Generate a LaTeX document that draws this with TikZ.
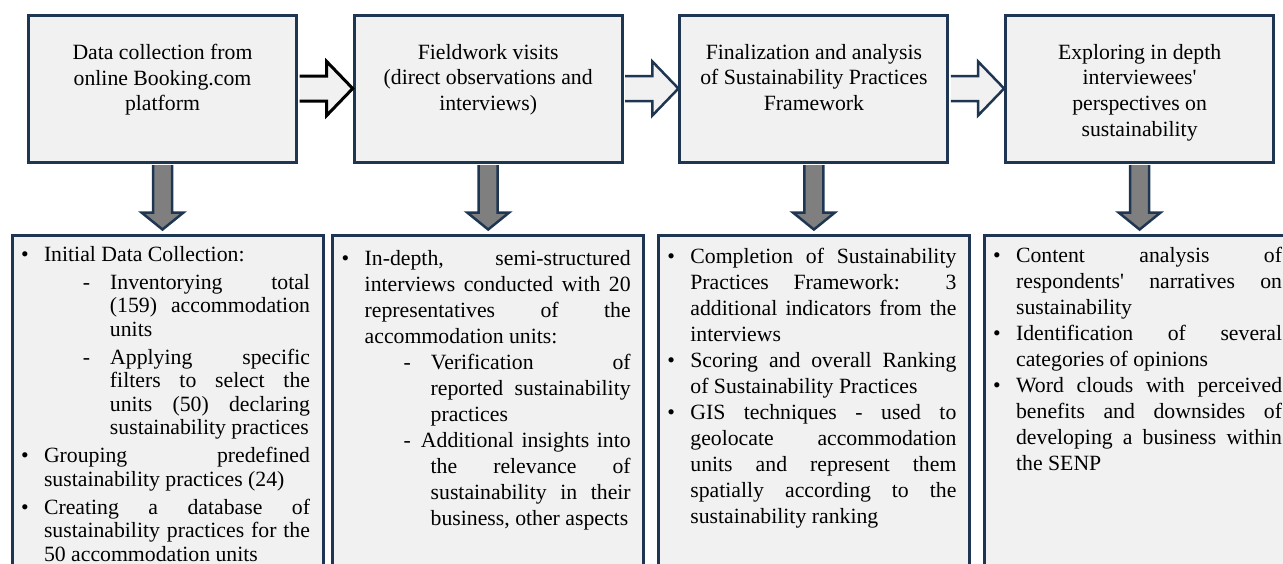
\documentclass[tikz,border=0pt]{standalone}
\usepackage{fontspec}
\setmainfont{Liberation Serif}
\usepackage{enumitem}
\usetikzlibrary{positioning,calc}
\definecolor{navy}{HTML}{1F3652}
\definecolor{panel}{HTML}{F1F1F2}
\definecolor{shaft}{HTML}{7F7F7F}
\tikzstyle{stage} = [draw=navy, line width=3pt, fill=panel, rectangle,
    minimum width=268pt, minimum height=147pt, inner sep=0pt]
\tikzstyle{detail} = [draw=navy, line width=3pt, fill=panel, rectangle,
    minimum width=311pt, minimum height=345pt, inner sep=0pt]
\tikzstyle{blockarrow} = [draw=navy, line width=2.5pt, fill=panel, line join=miter]
\tikzstyle{droparrow} = [draw=navy, line width=2.5pt, fill=shaft, line join=miter]
\setlist[itemize,1]{label=\textbullet, leftmargin=19pt, labelwidth=8pt, labelsep=15pt,
    align=left, topsep=0pt, partopsep=0pt, parsep=0pt, itemsep=0pt}
\setlist[itemize,2]{label=-, leftmargin=66pt, labelwidth=7pt, labelsep=20pt,
    align=left, topsep=0pt, partopsep=0pt, parsep=0pt, itemsep=0pt}
% title text of a stage box, centred from the top
\newcommand{\stagetext}[1]{\begin{minipage}[t][147pt][t]{262pt}\centering
    \fontsize{21.75pt}{25.7pt}\selectfont\vspace*{29pt}#1\end{minipage}}
% justified bullet text of a detail box: line spacing, top gap, items
\newcommand{\detailtext}[3]{\begin{minipage}[t][345pt][t]{285pt}
    \fontsize{21.75pt}{#1}\selectfont\tolerance=10000 \hbadness=10000
    \hyphenpenalty=10000 \vspace*{#2}#3\end{minipage}}

\begin{document}
\begin{tikzpicture}[x=1pt, y=1pt]
  \useasboundingbox (0,0) rectangle (1283,-563);
  \clip (0,0) rectangle (1283,-563);
  % the four stages
  \node [stage] (s1) at (162.5,-88.5) {\stagetext{Data collection from\\online Booking.com\\platform}};
  \node [stage, right of=s1, node distance=325.7pt] (s2) {\stagetext{Fieldwork visits\\(direct observations and\\interviews)}};
  \node [stage, right of=s2, node distance=325.7pt] (s3) {\stagetext{Finalization and analysis\\of Sustainability Practices\\Framework}};
  \node [stage, right of=s3, node distance=325.7pt] (s4) {\stagetext{Exploring in depth\\interviewees\textquotesingle\\perspectives on\\sustainability}};
  % what was done in each stage
  \node [detail, below of=s1, node distance=319pt, xshift=5pt] (d1) {\detailtext{23.5pt}{11pt}{%
    \begin{itemize}[itemsep=4.5pt]
    \item Initial Data Collection:
      \begin{itemize}[itemsep=4.5pt, topsep=4.5pt]
      \item Inventorying total\linebreak (159) accommodation\linebreak units
      \item Applying specific\linebreak filters to select the\linebreak units (50) declaring\linebreak sustainability practices
      \end{itemize}
    \item Grouping predefined\linebreak sustainability practices (24)
    \item Creating a database of\linebreak sustainability practices for the\linebreak 50 accommodation units
    \end{itemize}}};
  \node [detail, below of=s2, node distance=319pt] (d2) {\detailtext{26pt}{15pt}{%
    \begin{itemize}
    \item In-depth, semi-structured\linebreak interviews conducted with 20\linebreak representatives of the\linebreak accommodation units:
      \begin{itemize}
      \item Verification of\linebreak reported sustainability\linebreak practices
      \item \hspace*{-10pt}Additional insights into\linebreak the relevance of\linebreak sustainability in their\linebreak business, other aspects
      \end{itemize}
    \end{itemize}}};
  \node [detail, below of=s3, node distance=319pt] (d3) {\detailtext{26pt}{13pt}{%
    \begin{itemize}
    \item Completion of Sustainability\linebreak Practices Framework: 3\linebreak additional indicators from the\linebreak interviews
    \item Scoring and overall Ranking\linebreak of Sustainability Practices
    \item GIS techniques - used to\linebreak geolocate accommodation\linebreak units and represent them\linebreak spatially according to the\linebreak sustainability ranking
    \end{itemize}}};
  \node [detail, below of=s4, node distance=319pt] (d4) {\detailtext{26pt}{12pt}{%
    \begin{itemize}
    \item Content analysis of\linebreak respondents\textquotesingle{} narratives on\linebreak sustainability
    \item Identification of several\linebreak categories of opinions
    \item Word clouds with perceived\linebreak benefits and downsides of\linebreak developing a business within\linebreak the SENP
    \end{itemize}}};
  % block arrows from stage to stage
  \filldraw [blockarrow, draw=black, line width=3pt] ($(s1.east)+(1.5,12.5)$) -- ($(s2.west)+(-26,12.5)$)
    -- ($(s2.west)+(-26,27)$) -- (s2.west) -- ($(s2.west)+(-26,-27)$)
    -- ($(s2.west)+(-26,-12.5)$) -- ($(s1.east)+(1.5,-12.5)$);
  \filldraw [blockarrow] ($(s2.east)+(1.5,12.5)$) -- ($(s3.west)+(-26,12.5)$)
    -- ($(s3.west)+(-26,27)$) -- (s3.west) -- ($(s3.west)+(-26,-27)$)
    -- ($(s3.west)+(-26,-12.5)$) -- ($(s2.east)+(1.5,-12.5)$);
  \filldraw [blockarrow] ($(s3.east)+(1.5,12.5)$) -- ($(s4.west)+(-26,12.5)$)
    -- ($(s4.west)+(-26,27)$) -- (s4.west) -- ($(s4.west)+(-26,-27)$)
    -- ($(s4.west)+(-26,-12.5)$) -- ($(s3.east)+(1.5,-12.5)$);
  % grey arrows down into the details
  \filldraw [droparrow] ($(s1.south)+(-9.5,-1.5)$) -- ($(s1.south)+(-9.5,-49)$) -- ($(s1.south)+(-21,-49)$)
    -- ($(s1.south |- d1.north)+(0,4)$) -- ($(s1.south)+(21,-49)$) -- ($(s1.south)+(9.5,-49)$)
    -- ($(s1.south)+(9.5,-1.5)$);
  \filldraw [droparrow] ($(s2.south)+(-9.5,-1.5)$) -- ($(s2.south)+(-9.5,-49)$) -- ($(s2.south)+(-21,-49)$)
    -- ($(s2.south |- d2.north)+(0,4)$) -- ($(s2.south)+(21,-49)$) -- ($(s2.south)+(9.5,-49)$)
    -- ($(s2.south)+(9.5,-1.5)$);
  \filldraw [droparrow] ($(s3.south)+(-9.5,-1.5)$) -- ($(s3.south)+(-9.5,-49)$) -- ($(s3.south)+(-21,-49)$)
    -- ($(s3.south |- d3.north)+(0,4)$) -- ($(s3.south)+(21,-49)$) -- ($(s3.south)+(9.5,-49)$)
    -- ($(s3.south)+(9.5,-1.5)$);
  \filldraw [droparrow] ($(s4.south)+(-9.5,-1.5)$) -- ($(s4.south)+(-9.5,-49)$) -- ($(s4.south)+(-21,-49)$)
    -- ($(s4.south |- d4.north)+(0,4)$) -- ($(s4.south)+(21,-49)$) -- ($(s4.south)+(9.5,-49)$)
    -- ($(s4.south)+(9.5,-1.5)$);
\end{tikzpicture}
\end{document}
